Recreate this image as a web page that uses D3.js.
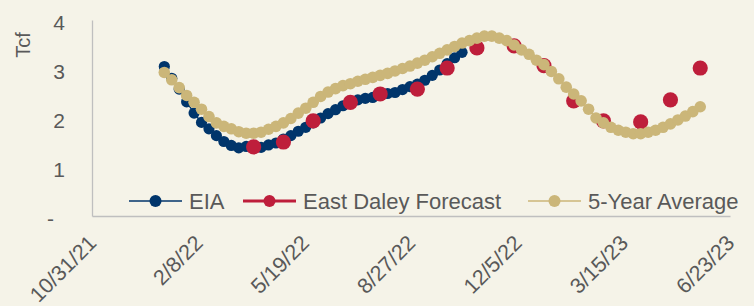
<!DOCTYPE html>
<html>
<head>
<meta charset="utf-8">
<script src="https://cdn.jsdelivr.net/npm/d3@7"></script>
<style>
  body { margin: 0; background: #f5f3e8; }
  svg { display: block; }
  text { font-family: "Liberation Sans", Arial, sans-serif; fill: #595959; }
</style>
</head>
<body>
<svg id="chart" width="754" height="306"></svg>
<script>
// weekly report dates (Fridays)
const weeks = [
  '2022-01-07','2022-01-14','2022-01-21','2022-01-28','2022-02-04','2022-02-11','2022-02-18','2022-02-25',
  '2022-03-04','2022-03-11','2022-03-18','2022-03-25','2022-04-01','2022-04-08','2022-04-15','2022-04-22',
  '2022-04-29','2022-05-06','2022-05-13','2022-05-20','2022-05-27','2022-06-03','2022-06-10','2022-06-17',
  '2022-06-24','2022-07-01','2022-07-08','2022-07-15','2022-07-22','2022-07-29','2022-08-05','2022-08-12',
  '2022-08-19','2022-08-26','2022-09-02','2022-09-09','2022-09-16','2022-09-23','2022-09-30','2022-10-07',
  '2022-10-14','2022-10-21','2022-10-28','2022-11-04','2022-11-11','2022-11-18','2022-11-25','2022-12-02',
  '2022-12-09','2022-12-16','2022-12-23','2022-12-30','2023-01-06','2023-01-13','2023-01-20','2023-01-27',
  '2023-02-03','2023-02-10','2023-02-17','2023-02-24','2023-03-03','2023-03-10','2023-03-17','2023-03-24',
  '2023-03-31','2023-04-07','2023-04-14','2023-04-21','2023-04-28','2023-05-05','2023-05-12','2023-05-19',
  '2023-05-26'
];

// EIA storage, Tcf (first 41 weeks)
const eia = [
  3.05, 2.81, 2.59, 2.33, 2.10, 1.91, 1.78, 1.64, 1.52, 1.44, 1.39, 1.42, 1.38, 1.40, 1.45, 1.49,
  1.57, 1.64, 1.73, 1.81, 1.90, 2.00, 2.09, 2.17, 2.25, 2.31, 2.37, 2.40, 2.42, 2.46, 2.50, 2.52,
  2.58, 2.64, 2.69, 2.77, 2.87, 2.98, 3.11, 3.23, 3.34
];

// 5-year average, Tcf
const fiveYear = [
  2.93, 2.78, 2.62, 2.46, 2.32, 2.18, 2.03, 1.90, 1.83, 1.78, 1.72, 1.69, 1.69, 1.71, 1.77, 1.83,
  1.90, 1.99, 2.10, 2.20, 2.32, 2.44, 2.53, 2.60, 2.66, 2.70, 2.75, 2.79, 2.83, 2.87, 2.91, 2.96,
  3.01, 3.06, 3.12, 3.18, 3.25, 3.32, 3.39, 3.46, 3.53, 3.58, 3.63, 3.67, 3.67, 3.63, 3.58, 3.49,
  3.39, 3.30, 3.18, 3.09, 2.95, 2.80, 2.63, 2.49, 2.35, 2.18, 2.00, 1.90, 1.81, 1.75, 1.71, 1.68,
  1.68, 1.71, 1.75, 1.81, 1.88, 1.96, 2.04, 2.13, 2.23
];

// East Daley monthly forecast
const forecastDates = [
  '2022-04-01','2022-04-29','2022-05-27','2022-07-01','2022-07-29','2022-09-02','2022-09-30','2022-10-28',
  '2022-12-02','2022-12-30','2023-01-27','2023-02-24','2023-03-31','2023-04-28','2023-05-26'
];
const forecast = [
  1.41, 1.51, 1.94, 2.32, 2.49, 2.59, 3.02, 3.43, 3.47, 3.07, 2.35, 1.94, 1.92, 2.37, 3.02
];

const xTickLabels = ['10/31/21','2/8/22','5/19/22','8/27/22','12/5/22','3/15/23','6/23/23'];
const yTicks = [0, 1, 2, 3, 4];

const navy = '#00356b';
const red = '#be1e3b';
const tan = '#cbb679';

const parse = d3.timeParse('%Y-%m-%d');
const parseTick = d3.timeParse('%m/%d/%y');
const tickDates = xTickLabels.map(parseTick);

const plotLeft = 92, plotRight = 730, plotTop = 20, plotBottom = 216;

const svg = d3.select('#chart');

const x = d3.scaleTime()
  .domain([tickDates[0], tickDates[tickDates.length - 1]])
  .range([plotLeft, plotRight]);
const y = d3.scaleLinear().domain([0, 4]).range([plotBottom, plotTop]);

// axes
const yAxis = svg.append('g')
  .attr('transform', 'translate(' + plotLeft + ',0)')
  .call(d3.axisLeft(y).tickValues(yTicks).tickSize(0).tickPadding(27)
    .tickFormat(d => d === 0 ? '-' : d));
yAxis.select('.domain').attr('stroke', '#bfbfbf').attr('stroke-width', 1.3);
yAxis.selectAll('text')
  .style('font-size', '21px')
  .attr('dy', '0.45em')
  .attr('fill', '#595959');
yAxis.selectAll('.tick').filter(d => d === 0).select('text').attr('x', -38);

const xAxis = svg.append('g')
  .attr('transform', 'translate(0,' + plotBottom + ')')
  .call(d3.axisBottom(x).tickValues(tickDates).tickSize(0)
    .tickFormat((d, i) => xTickLabels[i]));
xAxis.select('.domain').attr('stroke', '#bfbfbf').attr('stroke-width', 1.3);
xAxis.selectAll('text')
  .style('font-size', '21.5px')
  .attr('fill', '#595959')
  .attr('y', 0)
  .attr('dy', '0.35em')
  .attr('text-anchor', 'end')
  .attr('transform', 'translate(0,23) rotate(-45)');

svg.append('text')
  .attr('transform', 'translate(30,45) rotate(-90)')
  .attr('text-anchor', 'middle')
  .style('font-size', '20px')
  .text('Tcf');

// series
const eiaData = eia.map((v, i) => ({ date: parse(weeks[i]), value: v }));
const avgData = fiveYear.map((v, i) => ({ date: parse(weeks[i]), value: v }));
const fcData = forecast.map((v, i) => ({ date: parse(forecastDates[i]), value: v }));

const line = d3.line().x(d => x(d.date)).y(d => y(d.value));

svg.append('path').datum(eiaData)
  .attr('d', line).attr('fill', 'none').attr('stroke', navy).attr('stroke-width', 1.5);
svg.append('g').selectAll('circle')
  .data(eiaData).enter().append('circle')
  .attr('cx', d => x(d.date)).attr('cy', d => y(d.value))
  .attr('r', 5.6).attr('fill', navy);

svg.append('g').selectAll('circle')
  .data(fcData).enter().append('circle')
  .attr('cx', d => x(d.date)).attr('cy', d => y(d.value))
  .attr('r', 7.6).attr('fill', red);

svg.append('path').datum(avgData)
  .attr('d', line).attr('fill', 'none').attr('stroke', tan).attr('stroke-width', 1.5);
svg.append('g').selectAll('circle')
  .data(avgData).enter().append('circle')
  .attr('cx', d => x(d.date)).attr('cy', d => y(d.value))
  .attr('r', 5.8).attr('fill', tan);

// legend
const legendItems = [
  { name: 'EIA', color: navy, width: 1.5, x: 129 },
  { name: 'East Daley Forecast', color: red, width: 3.2, x: 243 },
  { name: '5-Year Average', color: tan, width: 1.5, x: 528 }
];
const legend = svg.append('g').attr('transform', 'translate(0,201)');
const li = legend.selectAll('g').data(legendItems).enter().append('g')
  .attr('transform', d => 'translate(' + d.x + ',0)');
li.append('line')
  .attr('x1', 0).attr('x2', 53).attr('y1', 0).attr('y2', 0)
  .attr('stroke', d => d.color).attr('stroke-width', d => d.width);
li.append('circle').attr('cx', 26.5).attr('cy', 0).attr('r', 6).attr('fill', d => d.color);
li.append('text')
  .attr('x', 60).attr('y', 0).attr('dy', '0.36em')
  .style('font-size', '22px')
  .text(d => d.name);
</script>
</body>
</html>
